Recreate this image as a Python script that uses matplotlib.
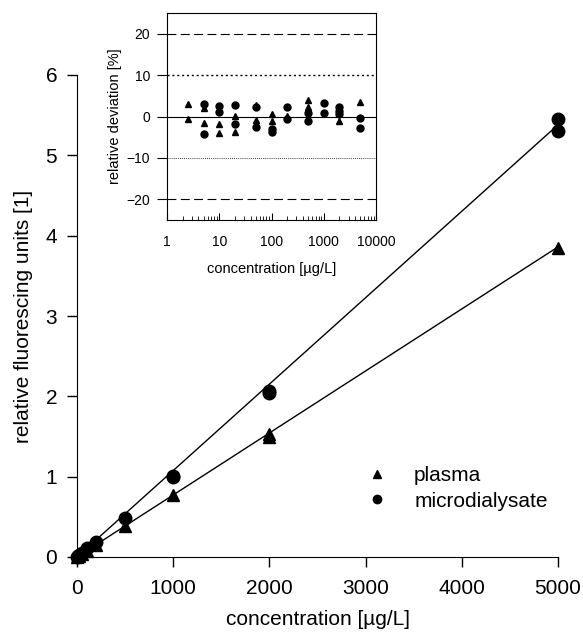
import matplotlib
matplotlib.use("Agg")
import matplotlib.pyplot as plt
import numpy as np

plt.rcParams['font.family'] = ['Liberation Sans', 'DejaVu Sans']

# Calibration data (main panel)
conc_cal = [0, 10, 20, 50, 100, 200, 500, 1000, 2000, 2000, 5000]
plasma_cal = [0.0, 0.008, 0.015, 0.038, 0.077, 0.155, 0.38, 0.77, 1.50, 1.53, 3.85]
conc_md = [0, 10, 20, 50, 100, 200, 500, 1000, 1000, 2000, 2000, 5000, 5000]
micro_cal = [0.0, 0.011, 0.021, 0.054, 0.107, 0.19, 0.48, 1.00, 1.01, 2.04, 2.07, 5.30, 5.45]
plasma_fit_x = [0, 5000]
plasma_fit_y = [0.0, 3.86]
micro_fit_x = [0, 5000]
micro_fit_y = [0.0, 5.38]

# Relative deviation (inset)
dev_conc_plasma = [2.5, 2.5, 5, 5, 10, 10, 20, 20, 50, 50, 100, 100, 200, 500, 500, 2000, 5000]
dev_plasma = [2.9, -0.7, 2.1, -1.5, -1.7, -4.1, 0.2, -3.7, 2.8, -0.8, 0.6, -1.1, 0.1, 4.0, 2.4, -1.0, 3.4]
dev_conc_micro = [5, 5, 10, 10, 20, 20, 50, 50, 100, 100, 200, 200, 500, 500, 1000, 1000, 2000, 2000, 2000, 5000, 5000]
dev_micro = [3.0, -4.3, 2.6, 1.2, 2.8, -1.7, 2.2, -2.5, -2.9, -3.7, 2.4, -0.7, 0.9, -1.0, 3.2, 0.8, 2.2, 1.4, 0.6, -0.4, -2.8]

fig = plt.figure(figsize=(5.83, 6.36), dpi=100)

ax = fig.add_axes([77/583, 1-557/636, (558-77)/583, (557-75)/636])
ax.plot(plasma_fit_x, plasma_fit_y, color='black', lw=1)
ax.plot(micro_fit_x, micro_fit_y, color='black', lw=1)
ax.plot(conc_cal, plasma_cal, '^', color='black', ms=9, clip_on=False)
ax.plot(conc_md, micro_cal, 'o', color='black', ms=9, clip_on=False)
ax.set_xlim(0, 5000)
ax.set_ylim(0, 6)
ax.set_xticks([0, 1000, 2000, 3000, 4000, 5000])
ax.set_yticks([0, 1, 2, 3, 4, 5, 6])
for s in ['top', 'right']:
    ax.spines[s].set_visible(False)
ax.tick_params(direction='out', length=7.2, width=1, labelsize=15, pad=7)
ax.tick_params(axis='x', pad=9)
ax.set_xlabel('concentration [µg/L]', fontsize=15, labelpad=8)
ax.set_ylabel('relative fluorescing units [1]', fontsize=15, labelpad=9)

# legend handles (small markers)
h1, = ax.plot([], [], '^', color='black', ms=6)
h2, = ax.plot([], [], 'o', color='black', ms=6)
fig.legend([h1, h2], ['plasma', 'microdialysate'], loc='center left',
           bbox_to_anchor=(366.6/583, 1-488.5/636), frameon=False,
           fontsize=15, handlelength=1.0, handletextpad=1.28, labelspacing=0.3,
           borderaxespad=0, borderpad=0)

ins = fig.add_axes([167/583, 1-220/636, (376-167)/583, (220-13)/636])
ins.set_xscale('log')
ins.set_xlim(1, 10000)
ins.set_ylim(-25, 25)
ins.axhline(0, color='black', lw=0.8)
ins.axhline(20, color='black', lw=0.8, dashes=(8, 4))
ins.axhline(-20, color='black', lw=0.8, dashes=(8, 4))
ins.axhline(10, color='black', lw=1.0, dashes=(1.5, 2))
ins.axhline(-10, color='black', lw=0.6, dashes=(1, 1.5))
ins.plot(dev_conc_plasma, dev_plasma, '^', color='black', ms=5)
ins.plot(dev_conc_micro, dev_micro, 'o', color='black', ms=5)
ins.set_yticks([-20, -10, 0, 10, 20])
ins.tick_params(axis='y', direction='out', length=7, labelsize=10, pad=5)
ins.tick_params(axis='x', which='major', direction='in', length=5, labelsize=10, pad=11)
ins.tick_params(axis='x', which='minor', direction='in', length=3)
ins.set_xticks([1, 10, 100, 1000, 10000])
ins.set_xticklabels(['1', '10', '100', '1000', '10000'])
ins.set_xlabel('concentration [µg/L]', fontsize=10.5, labelpad=9)
ins.set_ylabel('relative deviation [%]', fontsize=10.5, labelpad=3)
for s in ins.spines.values():
    s.set_linewidth(0.8)

fig.savefig('out.png', dpi=100)
